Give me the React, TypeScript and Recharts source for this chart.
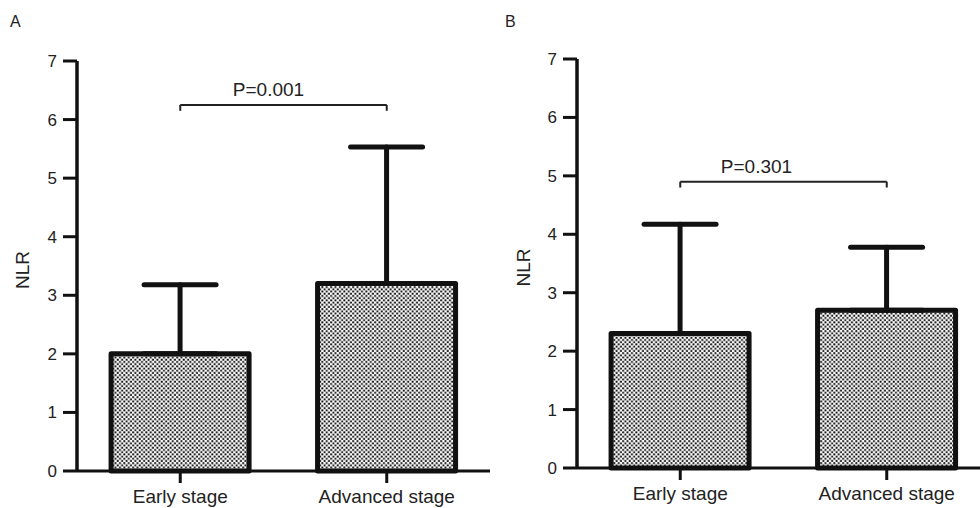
import React from 'react';
import { BarChart, Bar, XAxis, YAxis, ErrorBar, ReferenceLine } from 'recharts';

// ---- data ----
const categories = ['Early stage', 'Advanced stage'];
const meanA = [2.0, 3.2];
const sdA = [1.18, 2.33];
const meanB = [2.3, 2.7];
const sdB = [1.87, 1.08];
const yTicks = [0, 1, 2, 3, 4, 5, 6, 7];
const panelLabels = ['A', 'B'];
const pValues = ['P=0.001', 'P=0.301'];
const bracketY = [6.25, 4.9];
const bracketDrop = 0.1;

const FONT = '"Liberation Sans", Arial, Helvetica, sans-serif';
const INK = '#111';

const buildRows = (means: number[], sds: number[]) =>
  categories.map((c, i) => ({ name: c, nlr: means[i], err: [0, sds[i]] }));

const PLabel = (props: any) => {
  const { viewBox, value, shift } = props;
  if (!viewBox) return null;
  const cx = viewBox.x + (viewBox.width || 0) / 2 + shift;
  return (
    <text x={cx} y={viewBox.y - 9} textAnchor="middle" fontSize={19} fontFamily={FONT} fill="#222">
      {value}
    </text>
  );
};

const NlrLabel = (props: any) => {
  const { viewBox, dxPos } = props;
  if (!viewBox) return null;
  const x = viewBox.x + dxPos;
  const y = viewBox.y + viewBox.height / 2 + 4;
  return (
    <text x={x} y={y} transform={`rotate(-90 ${x} ${y})`} textAnchor="middle" dominantBaseline="central" fontSize={19} fontFamily={FONT} fill="#222">
      NLR
    </text>
  );
};

type PanelProps = {
  id: string;
  rows: any[];
  width: number;
  top: number;
  xAxisHeight: number;
  yAxisWidth: number;
  bracket: number;
  pText: string;
  pShift: number;
  nlrX: number;
};

const Panel = ({ id, rows, width, top, xAxisHeight, yAxisWidth, bracket, pText, pShift, nlrX }: PanelProps) => (
  <BarChart
    width={width}
    height={508}
    data={rows}
    margin={{ top, right: 0, bottom: 0, left: 0 }}
    barCategoryGap="16.5%"
  >
    <defs>
      <pattern id={id} x="0" y="0" width="4.4" height="4.4" patternUnits="userSpaceOnUse">
        <rect x="0" y="0" width="4.4" height="4.4" fill="#ffffff" />
        <rect x="0.2" y="0.2" width="1.9" height="1.9" fill="#0a0a0a" />
        <rect x="2.4" y="2.4" width="1.9" height="1.9" fill="#0a0a0a" />
      </pattern>
    </defs>
    <XAxis
      dataKey="name"
      height={xAxisHeight}
      tickSize={12}
      tickMargin={7}
      axisLine={{ stroke: INK, strokeWidth: 3 }}
      tickLine={{ stroke: INK, strokeWidth: 3 }}
      tick={{ fontSize: 19, fontFamily: FONT, fill: '#222' }}
    />
    <YAxis
      type="number"
      domain={[0, 7]}
      ticks={yTicks}
      interval={0}
      width={yAxisWidth}
      tickSize={14}
      tickMargin={6}
      axisLine={{ stroke: INK, strokeWidth: 3.5 }}
      tickLine={{ stroke: INK, strokeWidth: 3 }}
      tick={{ fontSize: 17, fontFamily: FONT, fill: '#222' }}
      label={{ content: (p: any) => <NlrLabel {...p} dxPos={nlrX} /> }}
    />
    <Bar dataKey="nlr" fill={`url(#${id})`} stroke={INK} strokeWidth={5} strokeLinejoin="round" isAnimationActive={false}>
      <ErrorBar dataKey="err" direction="y" width={36} stroke={INK} strokeWidth={5} strokeLinecap="round" isAnimationActive={false} />
    </Bar>
    <ReferenceLine
      segment={[{ x: categories[0], y: bracket }, { x: categories[1], y: bracket }]}
      stroke="#222"
      strokeWidth={2}
      ifOverflow="visible"
      label={{ content: (p: any) => <PLabel {...p} value={pText} shift={pShift} /> }}
    />
    <ReferenceLine
      segment={[{ x: categories[0], y: bracket }, { x: categories[0], y: bracket - bracketDrop }]}
      stroke="#222"
      strokeWidth={2}
      ifOverflow="visible"
    />
    <ReferenceLine
      segment={[{ x: categories[1], y: bracket }, { x: categories[1], y: bracket - bracketDrop }]}
      stroke="#222"
      strokeWidth={2}
      ifOverflow="visible"
    />
  </BarChart>
);

export default function App() {
  const rowsA = buildRows(meanA, sdA);
  const rowsB = buildRows(meanB, sdB);
  return (
    <div style={{ position: 'absolute', left: 0, top: 0, width: 980, height: 508, overflow: 'hidden', background: '#fff' }}>
      <div style={{ position: 'absolute', left: 0, top: 0 }}>
        <Panel id="patA" rows={rowsA} width={490} top={61} xAxisHeight={37} yAxisWidth={77} bracket={bracketY[0]} pText={pValues[0]} pShift={-15} nlrX={22} />
      </div>
      <div style={{ position: 'absolute', left: 490, top: 0 }}>
        <Panel id="patB" rows={rowsB} width={500} top={59} xAxisHeight={40} yAxisWidth={87} bracket={bracketY[1]} pText={pValues[1]} pShift={-27} nlrX={33} />
      </div>
      <div style={{ position: 'absolute', left: 10, top: 13, fontSize: 16, fontFamily: FONT, color: '#222' }}>{panelLabels[0]}</div>
      <div style={{ position: 'absolute', left: 505, top: 13, fontSize: 16, fontFamily: FONT, color: '#222' }}>{panelLabels[1]}</div>
    </div>
  );
}
